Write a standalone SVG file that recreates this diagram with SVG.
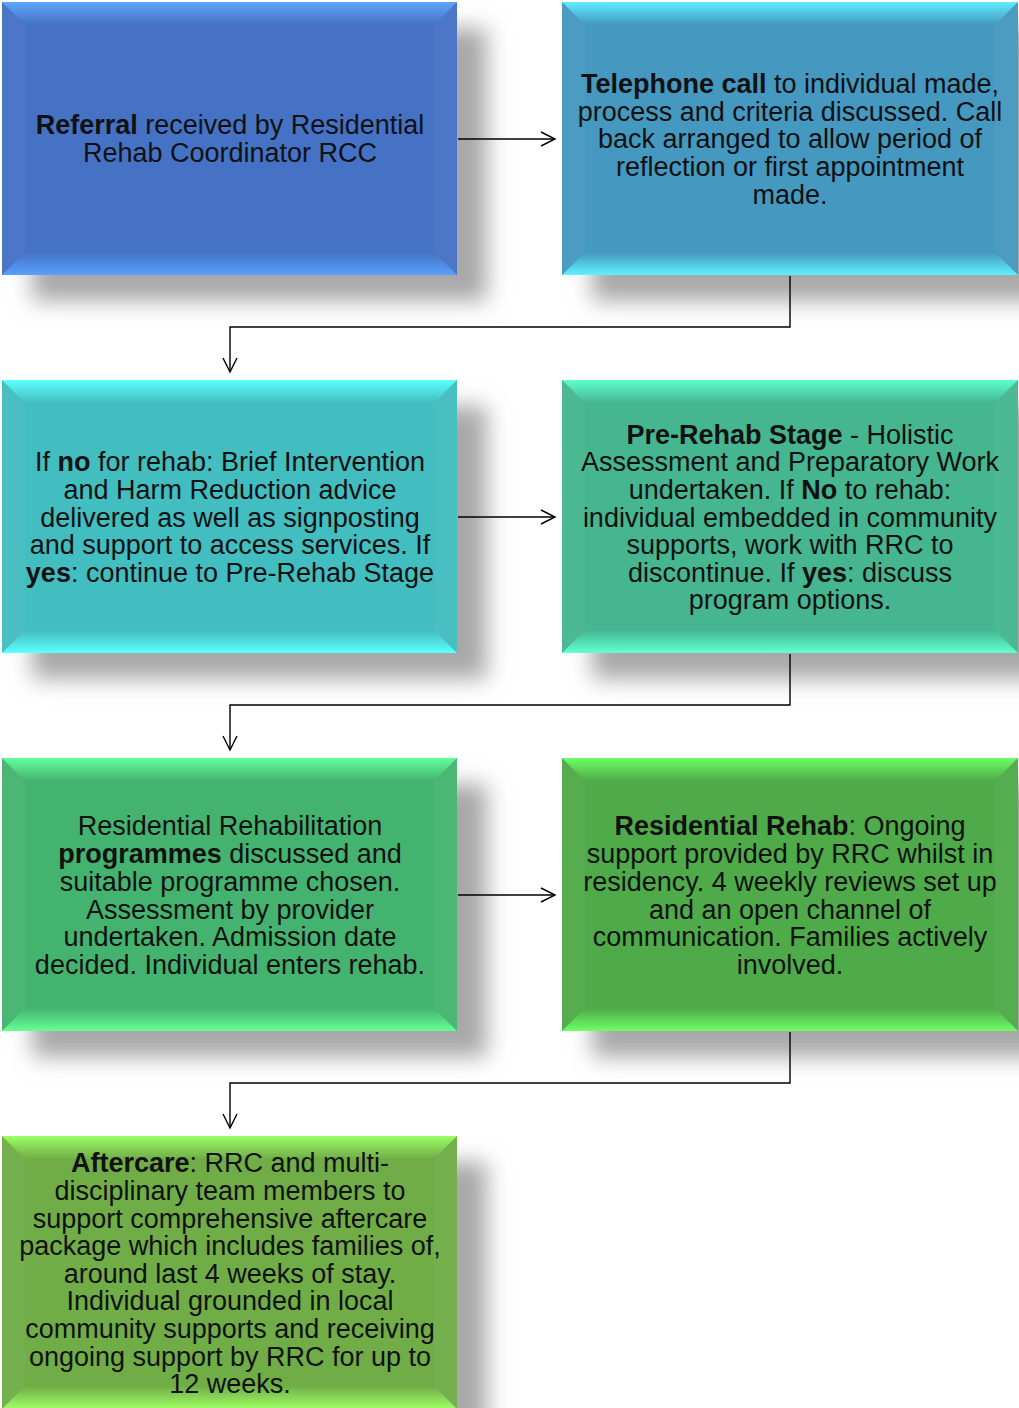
<svg xmlns="http://www.w3.org/2000/svg" width="1019" height="1408" viewBox="0 0 1019 1408">
<defs>
<filter id="sh" x="-20%" y="-20%" width="150%" height="160%">
<feGaussianBlur in="SourceAlpha" stdDeviation="11"/>
<feOffset dx="30" dy="26" result="b"/>
<feFlood flood-color="#a8a8a8"/>
<feComposite in2="b" operator="in" result="s"/>
<feMerge><feMergeNode in="s"/><feMergeNode in="SourceGraphic"/></feMerge>
</filter>
<marker id="ah" markerWidth="20" markerHeight="20" refX="15" refY="8" orient="auto" markerUnits="userSpaceOnUse">
<path d="M1,1 L15,8 L1,15" fill="none" stroke="#000" stroke-width="1.4"/>
</marker>
<linearGradient id="t1" x1="0" y1="0" x2="0" y2="1"><stop offset="0" stop-color="#5fa6ff"/><stop offset="1" stop-color="#4472c4"/></linearGradient>
<linearGradient id="b1" x1="0" y1="0" x2="0" y2="1"><stop offset="0" stop-color="#4472c4"/><stop offset="1" stop-color="#5aa0ff"/></linearGradient>
<linearGradient id="t2" x1="0" y1="0" x2="0" y2="1"><stop offset="0" stop-color="#60ecff"/><stop offset="1" stop-color="#4498bf"/></linearGradient>
<linearGradient id="b2" x1="0" y1="0" x2="0" y2="1"><stop offset="0" stop-color="#4498bf"/><stop offset="1" stop-color="#60f0ff"/></linearGradient>
<linearGradient id="t3" x1="0" y1="0" x2="0" y2="1"><stop offset="0" stop-color="#5cffff"/><stop offset="1" stop-color="#43bdc0"/></linearGradient>
<linearGradient id="b3" x1="0" y1="0" x2="0" y2="1"><stop offset="0" stop-color="#43bdc0"/><stop offset="1" stop-color="#5cffff"/></linearGradient>
<linearGradient id="t4" x1="0" y1="0" x2="0" y2="1"><stop offset="0" stop-color="#5effce"/><stop offset="1" stop-color="#44b690"/></linearGradient>
<linearGradient id="b4" x1="0" y1="0" x2="0" y2="1"><stop offset="0" stop-color="#44b690"/><stop offset="1" stop-color="#62ffd2"/></linearGradient>
<linearGradient id="t5" x1="0" y1="0" x2="0" y2="1"><stop offset="0" stop-color="#62ff9c"/><stop offset="1" stop-color="#45b370"/></linearGradient>
<linearGradient id="b5" x1="0" y1="0" x2="0" y2="1"><stop offset="0" stop-color="#45b370"/><stop offset="1" stop-color="#66ff94"/></linearGradient>
<linearGradient id="t6" x1="0" y1="0" x2="0" y2="1"><stop offset="0" stop-color="#6cff66"/><stop offset="1" stop-color="#4faa48"/></linearGradient>
<linearGradient id="b6" x1="0" y1="0" x2="0" y2="1"><stop offset="0" stop-color="#4faa48"/><stop offset="1" stop-color="#6cff66"/></linearGradient>
<linearGradient id="t7" x1="0" y1="0" x2="0" y2="1"><stop offset="0" stop-color="#9cff66"/><stop offset="1" stop-color="#70ad47"/></linearGradient>
<linearGradient id="b7" x1="0" y1="0" x2="0" y2="1"><stop offset="0" stop-color="#70ad47"/><stop offset="1" stop-color="#a0ff66"/></linearGradient>
</defs>
<style>
text{font-family:"Liberation Sans",Arial,sans-serif;font-size:27px;fill:#111;text-anchor:middle}
.b{font-weight:bold}
.side{fill:#ffffff;opacity:0.04}
.conn{fill:none;stroke:#000;stroke-width:1.4}
</style>
<rect width="1019" height="1408" fill="#fff"/>

<g id="n1">
<rect x="2" y="2" width="455" height="273" fill="#4472c4" filter="url(#sh)"/>
<polygon points="2,2 457,2 434,25 25,25" fill="url(#t1)"/>
<polygon points="2,275 457,275 434,252 25,252" fill="url(#b1)"/>
<polygon class="side" points="2,2 25,25 25,252 2,275"/>
<polygon class="side" points="457,2 434,25 434,252 457,275"/>
<text x="230" y="134"><tspan class="b">Referral</tspan> received by Residential</text>
<text x="230" y="162">Rehab Coordinator RCC</text>
</g>

<g id="n2">
<rect x="562" y="2" width="456" height="273" fill="#4498bf" filter="url(#sh)"/>
<polygon points="562,2 1018,2 995,25 585,25" fill="url(#t2)"/>
<polygon points="562,275 1018,275 995,252 585,252" fill="url(#b2)"/>
<polygon class="side" points="562,2 585,25 585,252 562,275"/>
<polygon class="side" points="1018,2 995,25 995,252 1018,275"/>
<text x="790" y="93"><tspan class="b">Telephone call</tspan> to individual made,</text>
<text x="790" y="121">process and criteria discussed. Call</text>
<text x="790" y="148">back arranged to allow period of</text>
<text x="790" y="176">reflection or first appointment</text>
<text x="790" y="204">made.</text>
</g>

<g id="n3">
<rect x="2" y="380" width="455" height="273" fill="#43bdc0" filter="url(#sh)"/>
<polygon points="2,380 457,380 434,403 25,403" fill="url(#t3)"/>
<polygon points="2,653 457,653 434,630 25,630" fill="url(#b3)"/>
<polygon class="side" points="2,380 25,403 25,630 2,653"/>
<polygon class="side" points="457,380 434,403 434,630 457,653"/>
<text x="230" y="471">If <tspan class="b">no</tspan> for rehab: Brief Intervention</text>
<text x="230" y="499">and Harm Reduction advice</text>
<text x="230" y="527">delivered as well as signposting</text>
<text x="230" y="554">and support to access services. If</text>
<text x="230" y="582"><tspan class="b">yes</tspan>: continue to Pre-Rehab Stage</text>
</g>

<g id="n4">
<rect x="562" y="380" width="456" height="273" fill="#44b690" filter="url(#sh)"/>
<polygon points="562,380 1018,380 995,403 585,403" fill="url(#t4)"/>
<polygon points="562,653 1018,653 995,630 585,630" fill="url(#b4)"/>
<polygon class="side" points="562,380 585,403 585,630 562,653"/>
<polygon class="side" points="1018,380 995,403 995,630 1018,653"/>
<text x="790" y="444"><tspan class="b">Pre-Rehab Stage</tspan> - Holistic</text>
<text x="790" y="471">Assessment and Preparatory Work</text>
<text x="790" y="499">undertaken. If <tspan class="b">No</tspan> to rehab:</text>
<text x="790" y="527">individual embedded in community</text>
<text x="790" y="554">supports, work with RRC to</text>
<text x="790" y="582">discontinue. If <tspan class="b">yes</tspan>: discuss</text>
<text x="790" y="609">program options.</text>
</g>

<g id="n5">
<rect x="2" y="758" width="455" height="273" fill="#45b370" filter="url(#sh)"/>
<polygon points="2,758 457,758 434,781 25,781" fill="url(#t5)"/>
<polygon points="2,1031 457,1031 434,1008 25,1008" fill="url(#b5)"/>
<polygon class="side" points="2,758 25,781 25,1008 2,1031"/>
<polygon class="side" points="457,758 434,781 434,1008 457,1031"/>
<text x="230" y="835">Residential Rehabilitation</text>
<text x="230" y="863"><tspan class="b">programmes</tspan> discussed and</text>
<text x="230" y="891">suitable programme chosen.</text>
<text x="230" y="919">Assessment by provider</text>
<text x="230" y="946">undertaken. Admission date</text>
<text x="230" y="974">decided. Individual enters rehab.</text>
</g>

<g id="n6">
<rect x="562" y="758" width="456" height="273" fill="#4faa48" filter="url(#sh)"/>
<polygon points="562,758 1018,758 995,781 585,781" fill="url(#t6)"/>
<polygon points="562,1031 1018,1031 995,1008 585,1008" fill="url(#b6)"/>
<polygon class="side" points="562,758 585,781 585,1008 562,1031"/>
<polygon class="side" points="1018,758 995,781 995,1008 1018,1031"/>
<text x="790" y="835"><tspan class="b">Residential Rehab</tspan>: Ongoing</text>
<text x="790" y="863">support provided by RRC whilst in</text>
<text x="790" y="891">residency. 4 weekly reviews set up</text>
<text x="790" y="919">and an open channel of</text>
<text x="790" y="946">communication. Families actively</text>
<text x="790" y="974">involved.</text>
</g>

<g id="n7">
<rect x="2" y="1136" width="455" height="273" fill="#70ad47" filter="url(#sh)"/>
<polygon points="2,1136 457,1136 434,1159 25,1159" fill="url(#t7)"/>
<polygon points="2,1409 457,1409 434,1386 25,1386" fill="url(#b7)"/>
<polygon class="side" points="2,1136 25,1159 25,1386 2,1409"/>
<polygon class="side" points="457,1136 434,1159 434,1386 457,1409"/>
<text x="230" y="1172"><tspan class="b">Aftercare</tspan>: RRC and multi-</text>
<text x="230" y="1200">disciplinary team members to</text>
<text x="230" y="1228">support comprehensive aftercare</text>
<text x="230" y="1255">package which includes families of,</text>
<text x="230" y="1283">around last 4 weeks of stay.</text>
<text x="230" y="1310">Individual grounded in local</text>
<text x="230" y="1338">community supports and receiving</text>
<text x="230" y="1366">ongoing support by RRC for up to</text>
<text x="230" y="1393">12 weeks.</text>
</g>

<g id="connectors">
<path class="conn" d="M458,139 H555" marker-end="url(#ah)"/>
<path class="conn" d="M790,276 V327 H230 V372" marker-end="url(#ah)"/>
<path class="conn" d="M458,517 H555" marker-end="url(#ah)"/>
<path class="conn" d="M790,654 V705 H230 V750" marker-end="url(#ah)"/>
<path class="conn" d="M458,895 H555" marker-end="url(#ah)"/>
<path class="conn" d="M790,1032 V1083 H230 V1128" marker-end="url(#ah)"/>
</g>
</svg>
